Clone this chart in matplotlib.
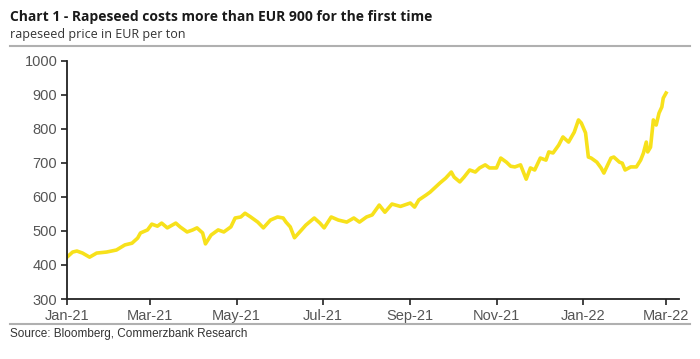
import matplotlib
matplotlib.use("Agg")
import matplotlib.pyplot as plt
import matplotlib.dates as mdates
from matplotlib import font_manager
import pandas as pd

# rapeseed price, EUR per ton
dates = [
    "2021-01-01", "2021-01-05", "2021-01-08", "2021-01-12", "2021-01-17", "2021-01-22",
    "2021-01-29", "2021-02-05", "2021-02-11", "2021-02-16", "2021-02-20", "2021-02-22",
    "2021-02-27", "2021-03-02", "2021-03-06", "2021-03-09", "2021-03-13", "2021-03-19",
    "2021-03-22", "2021-03-27", "2021-03-31", "2021-04-03", "2021-04-07", "2021-04-09",
    "2021-04-13", "2021-04-18", "2021-04-22", "2021-04-27", "2021-04-30", "2021-05-04",
    "2021-05-07", "2021-05-11", "2021-05-16", "2021-05-20", "2021-05-25", "2021-05-30",
    "2021-06-03", "2021-06-05", "2021-06-08", "2021-06-11", "2021-06-16", "2021-06-19",
    "2021-06-25", "2021-06-29", "2021-07-02", "2021-07-07", "2021-07-12", "2021-07-18",
    "2021-07-23", "2021-07-27", "2021-08-01", "2021-08-05", "2021-08-10", "2021-08-14",
    "2021-08-19", "2021-08-25", "2021-09-01", "2021-09-04", "2021-09-07", "2021-09-12",
    "2021-09-15", "2021-09-22", "2021-09-26", "2021-09-30", "2021-10-02", "2021-10-06",
    "2021-10-09", "2021-10-13", "2021-10-17", "2021-10-20", "2021-10-24", "2021-10-27",
    "2021-11-01", "2021-11-04", "2021-11-08", "2021-11-11", "2021-11-14", "2021-11-18",
    "2021-11-20", "2021-11-22", "2021-11-25", "2021-11-28", "2021-12-02", "2021-12-06",
    "2021-12-08", "2021-12-11", "2021-12-15", "2021-12-18", "2021-12-22", "2021-12-26",
    "2021-12-29", "2021-12-31", "2022-01-03", "2022-01-05", "2022-01-07", "2022-01-11",
    "2022-01-14", "2022-01-16", "2022-01-18", "2022-01-21", "2022-01-23", "2022-01-27",
    "2022-01-29", "2022-01-31", "2022-02-04", "2022-02-08", "2022-02-11", "2022-02-13",
    "2022-02-15", "2022-02-16", "2022-02-18", "2022-02-20", "2022-02-22", "2022-02-24",
    "2022-02-26", "2022-02-27", "2022-03-01",
]
prices = [
    423, 438, 441, 435, 423, 435,
    438, 444, 459, 464, 479, 494,
    503, 520, 514, 523, 509, 523,
    512, 497, 503, 509, 494, 462,
    488, 503, 497, 512, 538, 541,
    552, 541, 526, 509, 532, 541,
    538, 526, 512, 480, 503, 517,
    538, 523, 509, 541, 532, 526,
    538, 526, 541, 547, 576, 555,
    579, 572, 582, 570, 591, 605,
    614, 641, 655, 673, 658, 644,
    658, 679, 673, 685, 694, 685,
    685, 714, 702, 690, 688, 694,
    673, 652, 685, 679, 714, 708,
    732, 729, 752, 776, 761, 790,
    826, 817, 788, 717, 714, 702,
    685, 670, 688, 714, 717, 702,
    699, 679, 688, 688, 708, 729,
    761, 732, 746, 826, 811, 846,
    864, 890, 905,
]

ticks = pd.date_range("2021-01-01", "2022-03-01", freq="2MS")
yticks = [300, 400, 500, 600, 700, 800, 900, 1000]

names = {f.name for f in font_manager.fontManager.ttflist}
narrow = "Liberation Sans Narrow" if "Liberation Sans Narrow" in names else "Liberation Sans"

fig = plt.figure(figsize=(7.0, 3.59), dpi=100)
ax = fig.add_axes([0.0957, 0.167, 0.874, 0.664])

x = pd.to_datetime(dates)
ax.plot(x, prices, color="#F7E11B", lw=2.6, solid_joinstyle="round")

ax.set_ylim(300, 1000)
ax.set_yticks(yticks)
ax.set_xlim(pd.Timestamp("2021-01-01"), pd.Timestamp("2022-03-10"))
ax.set_xticks(ticks)
ax.xaxis.set_major_formatter(mdates.DateFormatter("%b-%y"))

for s in ["top", "right"]:
    ax.spines[s].set_visible(False)
for s in ["left", "bottom"]:
    ax.spines[s].set_linewidth(1.3)
    ax.spines[s].set_color("#222222")
ax.tick_params(direction="out", length=4, width=1.2, color="#222222",
               labelcolor="#555555", labelsize=10.5, pad=3)
for lab in ax.get_xticklabels() + ax.get_yticklabels():
    lab.set_fontfamily(narrow)

fig.text(0.014, 0.952, "Chart 1 - Rapeseed costs more than EUR 900 for the first time",
         fontsize=10, fontweight="bold", color="#1a1a1a", family="Open Sans", va="center")
fig.text(0.014, 0.903, "rapeseed price in EUR per ton",
         fontsize=9, color="#333333", family="Open Sans", va="center")
fig.add_artist(plt.Line2D([0.014, 0.986], [0.872, 0.872], color="#b0b0b0", lw=1.5))
fig.add_artist(plt.Line2D([0.014, 0.986], [0.098, 0.098], color="#b0b0b0", lw=1.5))
fig.text(0.014, 0.070, "Source: Bloomberg, Commerzbank Research",
         fontsize=8.5, color="#333333", family=narrow, va="center")

fig.savefig("out.png", dpi=100, facecolor="white")
